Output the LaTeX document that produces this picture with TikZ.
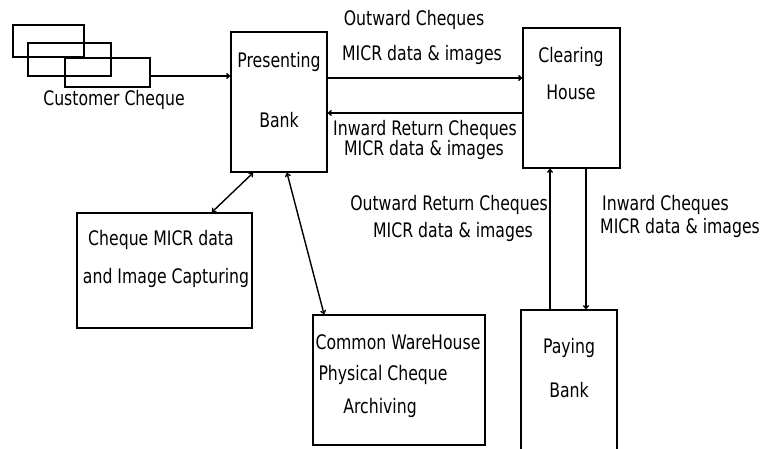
\documentclass[tikz,border=0pt]{standalone}
\usepackage{fontspec}
\setmainfont{DejaVu Sans}[FakeStretch=0.785]
\usetikzlibrary{arrows.meta}
\begin{document}
\begin{tikzpicture}[x=1pt,y=-1pt,
  box/.style={draw,line width=1.8pt,inner sep=0pt},
  lbl/.style={inner sep=0pt,font=\fontsize{20}{20}\selectfont},
  arr/.style={line width=1.4pt,-{To[length=4pt,width=6pt]}},
  darr/.style={line width=1.4pt,{To[length=4pt,width=6pt]}-{To[length=4pt,width=6pt]}}]
\useasboundingbox[fill=white] (0,0) rectangle (762,449);
% cheques
\node[box,minimum width=71pt,minimum height=32pt] (c1) at (48.5,41) {};
\node[box,minimum width=83pt,minimum height=33pt] (c2) at (69.5,59.5) {};
\node[box,minimum width=85pt,minimum height=29pt] (c3) at (107.5,72.5) {};
\node[lbl] (tcc) at (114,100) {Customer Cheque};
% boxes
\node[box,minimum width=96pt,minimum height=140pt] (pb) at (279,102) {};
\node[box,minimum width=97pt,minimum height=140pt] (ch) at (571.5,98) {};
\node[box,minimum width=96pt,minimum height=150pt] (pay) at (569,385) {};
\node[box,minimum width=175pt,minimum height=115pt] (micr) at (164.5,270.5) {};
\node[box,minimum width=172pt,minimum height=130pt] (wh) at (399,380) {};
% box texts
\node[lbl] (t1) at (279,62) {Presenting};
\node[lbl] (t2) at (279,120) {Bank};
\node[lbl] (t3) at (571,57) {Clearing};
\node[lbl] (t4) at (571,92) {House};
\node[lbl] (t5) at (569,348) {Paying};
\node[lbl] (t6) at (569,390) {Bank};
\node[lbl] (t7) at (161,240) {Cheque MICR data};
\node[lbl] (t8) at (166,278) {and Image Capturing};
\node[lbl] (t9) at (398,342) {Common WareHouse};
\node[lbl] (t10) at (383,375) {Physical Cheque};
\node[lbl] (t11) at (380,408) {Archiving};
% connector labels
\node[lbl] (l1) at (414,20) {Outward Cheques};
\node[lbl] (l2) at (422,55) {MICR data \& images};
\node[lbl] (l3) at (425,130) {Inward Return Cheques};
\node[lbl] (l4) at (424,150) {MICR data \& images};
\node[lbl] (l5) at (449,205) {Outward Return Cheques};
\node[lbl] (l6) at (453,232) {MICR data \& images};
\node[lbl,anchor=west] (l7) at (602,205) {Inward Cheques};
\node[lbl,anchor=west] (l8) at (600,228) {MICR data \& images};
% connectors
\draw[arr] (c3.east |- 0,76) -- (pb.west |- 0,76);
\draw[arr] (pb.east |- 0,78) -- (ch.west |- 0,78);
\draw[arr] (ch.west |- 0,113) -- (pb.east |- 0,113);
\draw[arr] (pay.north -| 550,0) -- (ch.south -| 550,0);
\draw[arr] (ch.south -| 586,0) -- (pay.north -| 586,0);
\draw[darr] (pb.south -| 253,0) -- (micr.north -| 212,0);
\draw[darr] (pb.south -| 287,0) -- (wh.north -| 324,0);
\end{tikzpicture}
\end{document}
